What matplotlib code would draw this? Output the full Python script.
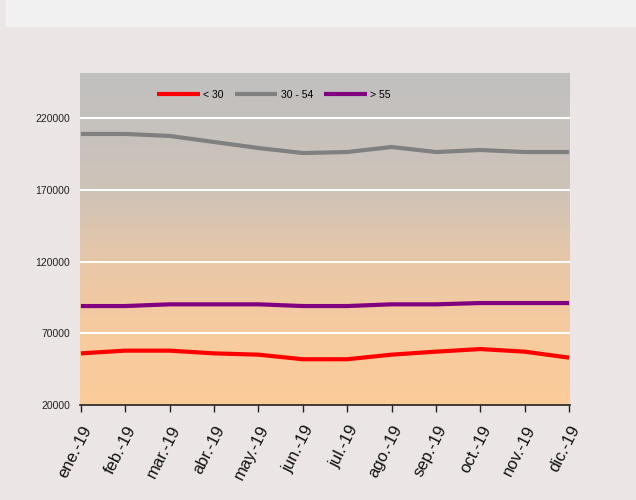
import matplotlib
matplotlib.use("Agg")
import matplotlib.pyplot as plt
import numpy as np
from matplotlib.patches import Rectangle

plt.rcParams['font.family'] = ['Liberation Sans', 'DejaVu Sans']

months = ["ene.-19", "feb.-19", "mar.-19", "abr.-19", "may.-19", "jun.-19",
          "jul.-19", "ago.-19", "sep.-19", "oct.-19", "nov.-19", "dic.-19"]
under_30 = [56000, 57900, 57900, 56000, 55100, 51900, 51900, 55100, 57200, 59000, 57200, 53000]
age_30_54 = [209000, 209000, 207600, 203400, 199200, 195700, 196400, 199900, 196400, 197800, 196400, 196400]
over_55 = [89000, 89000, 90200, 90200, 90200, 89000, 89000, 90200, 90200, 91100, 91100, 91100]
series_labels = ["< 30", "30 - 54", "> 55"]
yticks = [20000, 70000, 120000, 170000, 220000]

fig = plt.figure(figsize=(6.36, 5.0), dpi=100)
fig.patch.set_facecolor("#ebe6e5")
fig.patches.append(Rectangle((6/636, 1-27/500), 1-6/636, 27/500, transform=fig.transFigure,
                             facecolor="#f1f1f1", edgecolor="none", zorder=0))

ax = fig.add_axes([80/636, 1-405/500, 490/636, 332/500])
ymin, ymax = 20000, 251500
x = np.arange(len(months))
xmin, xmax = -0.02, len(months) - 1 + 0.02
ax.set_xlim(xmin, xmax)
ax.set_ylim(ymin, ymax)

# gradient background (top grey -> bottom peach)
stops_t = [0.0, 0.35, 0.565, 0.78, 1.0]
stops_c = np.array([[192, 192, 192], [206, 195, 184], [232, 199, 168],
                    [247, 203, 158], [252, 204, 153]]) / 255
t = np.linspace(0, 1, 400)
grad = np.stack([np.interp(t, stops_t, stops_c[:, k]) for k in range(3)], axis=1)
grad = np.repeat(grad[:, None, :], 2, axis=1)
ax.imshow(grad, extent=[xmin, xmax, ymin, ymax], aspect="auto", zorder=0, origin="upper")

for yt in yticks[1:]:
    ax.axhline(yt, color="white", lw=1.5, zorder=1)

ax.plot(x, under_30, color="#ff0000", lw=3, label=series_labels[0], zorder=3, solid_capstyle="butt")
ax.plot(x, age_30_54, color="#808080", lw=3, label=series_labels[1], zorder=3, solid_capstyle="butt")
ax.plot(x, over_55, color="#800080", lw=3, label=series_labels[2], zorder=3, solid_capstyle="butt")

ax.set_yticks(yticks)
ax.set_yticklabels([str(v) for v in yticks], fontsize=7.5, color="#222222")
ax.tick_params(axis="y", length=0, pad=7)
ax.set_xticks(x)
ax.set_xticklabels(months, rotation=63, ha="right", rotation_mode="anchor", fontsize=12, color="#111111")
ax.tick_params(axis="x", direction="out", length=5, width=1, color="#222222", pad=8)

for s in ["left", "right", "top"]:
    ax.spines[s].set_visible(False)
ax.spines["bottom"].set_color("#222222")
ax.spines["bottom"].set_linewidth(1.2)

leg = ax.legend(loc="upper left", bbox_to_anchor=(0.138, 0.978), ncol=3, frameon=False,
                fontsize=7.5, handlelength=4.1, handletextpad=0.3, columnspacing=1.1)

fig.savefig("out.png", dpi=100, facecolor=fig.get_facecolor())
